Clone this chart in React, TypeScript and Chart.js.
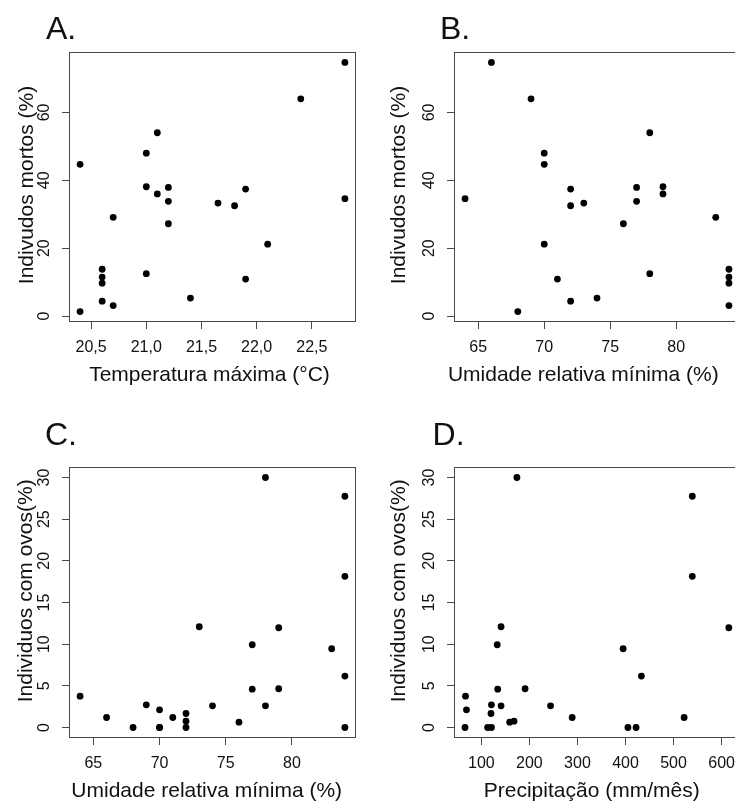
import React, { useEffect, useRef } from "react";
import { Chart, registerables } from "chart.js";

Chart.register(...registerables);

// ---- Dados (mortalidade) ----
const MORTOS = [1.35, 44.7, 13.8, 11.5, 9.7, 4.4, 29.1, 3.1, 48.0, 38.1, 12.5, 54.0, 36.0, 37.9, 33.8, 27.2, 5.3, 33.3, 32.5, 37.4, 10.9, 21.2, 64.0, 74.7, 34.6];
const TEMP_MAX = [20.4, 20.4, 20.6, 20.6, 20.6, 20.6, 20.7, 20.7, 21.0, 21.0, 21.0, 21.1, 21.1, 21.2, 21.2, 21.2, 21.4, 21.65, 21.8, 21.9, 21.9, 22.1, 22.4, 22.8, 22.8];
const UMIDADE_MORTOS = [68, 70, 84, 84, 84, 72, 83, 84, 70, 79, 78, 78, 79, 77, 77, 76, 74, 73, 72, 72, 71, 70, 69, 66, 64];

// ---- Dados (indivíduos com ovos) ----
const OVOS = [3.76, 1.2, 0, 2.72, 2.12, 0, 0, 1.2, 1.68, 0.76, 0, 12.09, 2.6, 0.64, 9.93, 4.6, 30.0, 2.6, 11.97, 4.65, 9.45, 27.75, 18.14, 6.17, 0];
const UMIDADE_OVOS = [64, 66, 68, 69, 70, 70, 70, 71, 72, 72, 72, 73, 74, 76, 77, 77, 78, 78, 79, 79, 83, 84, 84, 84, 84];
const PRECIPITACAO = [67, 289, 66, 121, 69, 113, 121, 522, 120, 168, 405, 141, 141, 159, 133, 134, 174, 244, 615, 191, 395, 539, 539, 433, 422];

// ---- Marcas dos eixos ----
const TEMP_TICKS = [20.5, 21.0, 21.5, 22.0, 22.5];
const UMIDADE_TICKS = [65, 70, 75, 80];
const PRECIP_TICKS = [100, 200, 300, 400, 500, 600];
const MORTOS_TICKS = [0, 20, 40, 60];
const OVOS_TICKS = [0, 5, 10, 15, 20, 25, 30];

const FONT = "'Liberation Sans', Arial, Helvetica, sans-serif";
const AXIS_COLOR = "#4a4a4a";
const TEXT_COLOR = "#111";

type Panel = {
  key: string;
  letter: string;
  xTitle: string;
  yTitle: string;
  xs: number[];
  ys: number[];
  xTicks: number[];
  yTicks: number[];
  xRange: [number, number];
  yRange: [number, number];
  comma: boolean;
  canvas: { left: number; top: number; width: number; height: number };
  area: { left: number; right: number; top: number; bottom: number };
  letterPos: [number, number];
  yTitlePos: [number, number];
  xTitlePos: [number, number];
};

const PANELS: Panel[] = [
  {
    key: "A",
    letter: "A.",
    xTitle: "Temperatura máxima (°C)",
    yTitle: "Indivudos mortos (%)",
    xs: TEMP_MAX,
    ys: MORTOS,
    xTicks: TEMP_TICKS,
    yTicks: MORTOS_TICKS,
    xRange: [20.304, 22.896],
    yRange: [-1.584, 77.634],
    comma: true,
    canvas: { left: 0, top: 0, width: 368, height: 400 },
    area: { left: 69.5, right: 355.5, top: 52.5, bottom: 321.5 },
    letterPos: [46, 39.3],
    yTitlePos: [27.2, 185],
    xTitlePos: [209.5, 380.5],
  },
  {
    key: "B",
    letter: "B.",
    xTitle: "Umidade relativa mínima (%)",
    yTitle: "Indivudos mortos (%)",
    xs: UMIDADE_MORTOS,
    ys: MORTOS,
    xTicks: UMIDADE_TICKS,
    yTicks: MORTOS_TICKS,
    xRange: [63.2, 84.8],
    yRange: [-1.584, 77.634],
    comma: false,
    canvas: { left: 368, top: 0, width: 380, height: 400 },
    area: { left: 86.5, right: 371.5, top: 52.5, bottom: 321.5 },
    letterPos: [72, 39.3],
    yTitlePos: [31, 185],
    xTitlePos: [215.3, 380.5],
  },
  {
    key: "C",
    letter: "C.",
    xTitle: "Umidade relativa mínima (%)",
    yTitle: "Individuos com ovos(%)",
    xs: UMIDADE_OVOS,
    ys: OVOS,
    xTicks: UMIDADE_TICKS,
    yTicks: OVOS_TICKS,
    xRange: [63.2, 84.8],
    yRange: [-1.2, 31.2],
    comma: false,
    canvas: { left: 0, top: 400, width: 368, height: 401 },
    area: { left: 69.5, right: 355.5, top: 67.5, bottom: 337.5 },
    letterPos: [45, 44.5],
    yTitlePos: [26.7, 190.8],
    xTitlePos: [206.7, 397],
  },
  {
    key: "D",
    letter: "D.",
    xTitle: "Precipitação (mm/mês)",
    yTitle: "Individuos com ovos(%)",
    xs: PRECIPITACAO,
    ys: OVOS,
    xTicks: PRECIP_TICKS,
    yTicks: OVOS_TICKS,
    xRange: [44.1, 637.2],
    yRange: [-1.2, 31.2],
    comma: false,
    canvas: { left: 368, top: 400, width: 380, height: 401 },
    area: { left: 86.5, right: 371.5, top: 67.5, bottom: 337.5 },
    letterPos: [64.6, 44.5],
    yTitlePos: [31.7, 190.8],
    xTitlePos: [223.7, 397],
  },
];

function fmtTick(v: number, comma: boolean): string {
  return comma ? v.toFixed(1).replace(".", ",") : String(v);
}

function PanelChart({ p }: { p: Panel }) {
  const ref = useRef<HTMLCanvasElement | null>(null);

  useEffect(() => {
    const canvas = ref.current;
    if (!canvas) return;

    // Frame, rotated y labels, titles and panel letter (base-graphics look)
    const decor = {
      id: "decor" + p.key,
      afterDraw(chart: any) {
        const ctx = chart.ctx as CanvasRenderingContext2D;
        const a = chart.chartArea;
        ctx.save();
        ctx.strokeStyle = AXIS_COLOR;
        ctx.lineWidth = 1;
        ctx.strokeRect(a.left, a.top, a.right - a.left, a.bottom - a.top);

        ctx.fillStyle = TEXT_COLOR;
        const ys = chart.scales.y;
        ctx.font = `16px ${FONT}`;
        ctx.textAlign = "center";
        ctx.textBaseline = "middle";
        for (const t of ys.ticks) {
          const py = ys.getPixelForValue(t.value);
          ctx.save();
          ctx.translate(a.left - 24.5, py);
          ctx.rotate(-Math.PI / 2);
          ctx.fillText(String(t.value), 0, 0);
          ctx.restore();
        }

        ctx.font = `21px ${FONT}`;
        ctx.save();
        ctx.translate(p.yTitlePos[0], p.yTitlePos[1]);
        ctx.rotate(-Math.PI / 2);
        ctx.textAlign = "center";
        ctx.textBaseline = "middle";
        ctx.fillText(p.yTitle, 0, 0);
        ctx.restore();

        ctx.textAlign = "center";
        ctx.textBaseline = "alphabetic";
        ctx.fillText(p.xTitle, p.xTitlePos[0], p.xTitlePos[1]);

        ctx.font = `32px ${FONT}`;
        ctx.textAlign = "left";
        ctx.fillText(p.letter, p.letterPos[0], p.letterPos[1]);
        ctx.restore();
      },
    };

    const tickGrid = {
      display: true,
      drawOnChartArea: false,
      drawTicks: true,
      tickLength: 7.5,
      color: AXIS_COLOR,
      lineWidth: 1,
    };

    const chart = new Chart(canvas, {
      type: "scatter",
      data: {
        datasets: [
          {
            data: p.xs.map((x, i) => ({ x, y: p.ys[i] })),
            pointRadius: 3.4,
            pointBackgroundColor: "#000",
            pointBorderWidth: 0,
            pointHoverRadius: 3.4,
            showLine: false,
          },
        ],
      },
      options: {
        responsive: false,
        maintainAspectRatio: false,
        animation: false,
        events: [],
        layout: {
          padding: {
            left: 0,
            top: p.area.top,
            right: p.canvas.width - p.area.right,
            bottom: 0,
          },
        },
        plugins: {
          legend: { display: false },
          tooltip: { enabled: false },
          title: { display: false },
        },
        scales: {
          x: {
            type: "linear",
            position: "bottom",
            min: p.xRange[0],
            max: p.xRange[1],
            afterBuildTicks: (s: any) => {
              s.ticks = p.xTicks.map((v) => ({ value: v }));
            },
            afterFit: (s: any) => {
              s.height = p.canvas.height - p.area.bottom;
            },
            grid: tickGrid,
            border: { display: false },
            ticks: {
              autoSkip: false,
              maxRotation: 0,
              minRotation: 0,
              padding: 8.5,
              color: TEXT_COLOR,
              font: { family: FONT, size: 16 },
              callback: (v: any) => fmtTick(Number(v), p.comma),
            },
          },
          y: {
            type: "linear",
            position: "left",
            min: p.yRange[0],
            max: p.yRange[1],
            afterBuildTicks: (s: any) => {
              s.ticks = p.yTicks.map((v) => ({ value: v }));
            },
            afterFit: (s: any) => {
              s.width = p.area.left;
            },
            grid: tickGrid,
            border: { display: false },
            ticks: { display: false },
          },
        },
      } as any,
      plugins: [decor],
    });

    return () => chart.destroy();
  }, [p]);

  return (
    <canvas
      ref={ref}
      width={p.canvas.width}
      height={p.canvas.height}
      style={{
        position: "absolute",
        left: p.canvas.left,
        top: p.canvas.top,
        width: p.canvas.width,
        height: p.canvas.height,
      }}
    />
  );
}

export default function App() {
  return (
    <div
      style={{
        position: "fixed",
        left: 0,
        top: 0,
        width: 735,
        height: 801,
        overflow: "hidden",
        background: "#fff",
      }}
    >
      {PANELS.map((p) => (
        <PanelChart key={p.key} p={p} />
      ))}
    </div>
  );
}
